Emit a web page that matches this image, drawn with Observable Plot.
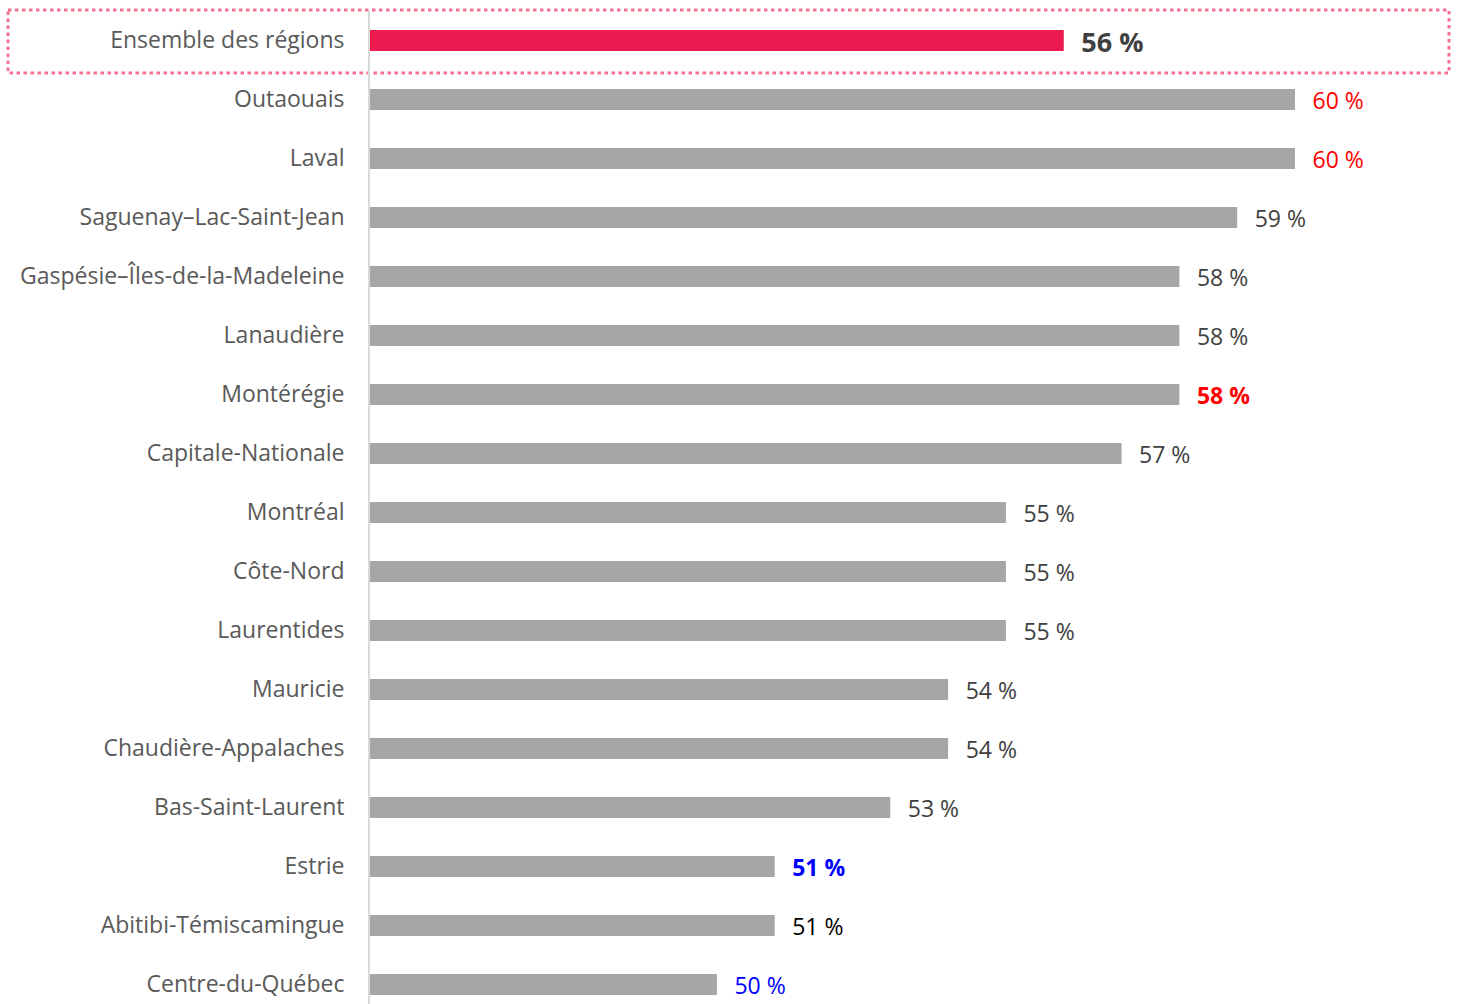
<!DOCTYPE html>
<html>
<head>
<meta charset="utf-8">
<script src="https://cdn.jsdelivr.net/npm/d3@7"></script>
<script src="https://cdn.jsdelivr.net/npm/@observablehq/plot@0.6"></script>
<style>
  html, body { margin: 0; padding: 0; background: #ffffff; }
  #chart svg { display: block; }
</style>
</head>
<body>
<div id="chart"></div>
<script>
// ---- Data ----
const regions = [
  "Ensemble des régions",
  "Outaouais",
  "Laval",
  "Saguenay–Lac-Saint-Jean",
  "Gaspésie–Îles-de-la-Madeleine",
  "Lanaudière",
  "Montérégie",
  "Capitale-Nationale",
  "Montréal",
  "Côte-Nord",
  "Laurentides",
  "Mauricie",
  "Chaudière-Appalaches",
  "Bas-Saint-Laurent",
  "Estrie",
  "Abitibi-Témiscamingue",
  "Centre-du-Québec"
];
const values = [56, 60, 60, 59, 58, 58, 58, 57, 55, 55, 55, 54, 54, 53, 51, 51, 50];
const totalLabel = "Ensemble des régions";

// ---- Styles (kept apart from the data) ----
const labelStyles = {
  "Ensemble des régions": { fill: "#404040", bold: true },
  "Outaouais": { fill: "#ff0000", bold: false },
  "Laval": { fill: "#ff0000", bold: false },
  "Montérégie": { fill: "#ff0000", bold: true },
  "Estrie": { fill: "#0000ff", bold: true },
  "Abitibi-Témiscamingue": { fill: "#000000", bold: false },
  "Centre-du-Québec": { fill: "#0000ff", bold: false }
};
const defaultLabel = { fill: "#404040", bold: false };
const styleOf = r => labelStyles[r] || defaultLabel;

const data = regions.map((region, i) => ({ region, value: values[i] }));
const totalData = data.filter(d => d.region === totalLabel);
const otherData = data.filter(d => d.region !== totalLabel);
const normalData = otherData.filter(d => !styleOf(d.region).bold);
const boldData = otherData.filter(d => styleOf(d.region).bold);

const valueText = (rows, weight, size, dy) => Plot.text(rows, {
  x: "value",
  y: "region",
  text: d => `${d.value}\u00a0%`,
  textAnchor: "start",
  dx: 17,
  dy: dy,
  fontSize: size,
  fontWeight: weight,
  fill: d => styleOf(d.region).fill
});

const chart = Plot.plot({
  width: 1458,
  height: 1004,
  marginLeft: 8,
  marginRight: 9,
  marginTop: 10,
  marginBottom: 0,
  style: { fontFamily: "'Open Sans', 'Noto Sans', sans-serif", background: "#ffffff" },
  x: { domain: [44, 60], range: [370, 1295], axis: null },
  y: { domain: regions, range: [11, 1014], paddingInner: 0.644, paddingOuter: 0.322, axis: null },
  marks: [
    Plot.cell([totalLabel], {
      y: d => d,
      fill: "none",
      stroke: "#f4728f",
      strokeWidth: 3,
      strokeDasharray: "3.5,3.5",
      insetTop: -20,
      insetBottom: -22
    }),
    Plot.ruleX([44], { stroke: "#d9d9d9", strokeWidth: 2, dx: -1.5 }),
    Plot.barX(data, {
      x1: 44,
      x2: "value",
      y: "region",
      fill: d => d.region === totalLabel ? "#ec1a4e" : "#a6a6a6"
    }),
    Plot.text(data, {
      x: 44,
      y: "region",
      text: "region",
      textAnchor: "end",
      dx: -26,
      dy: 0,
      fontSize: 23,
      fill: "#595959"
    }),
    valueText(normalData, "normal", 23, 2),
    valueText(boldData, "bold", 23, 2),
    valueText(totalData, "bold", 27, 2)
  ]
});

document.getElementById("chart").appendChild(chart);
</script>
</body>
</html>
